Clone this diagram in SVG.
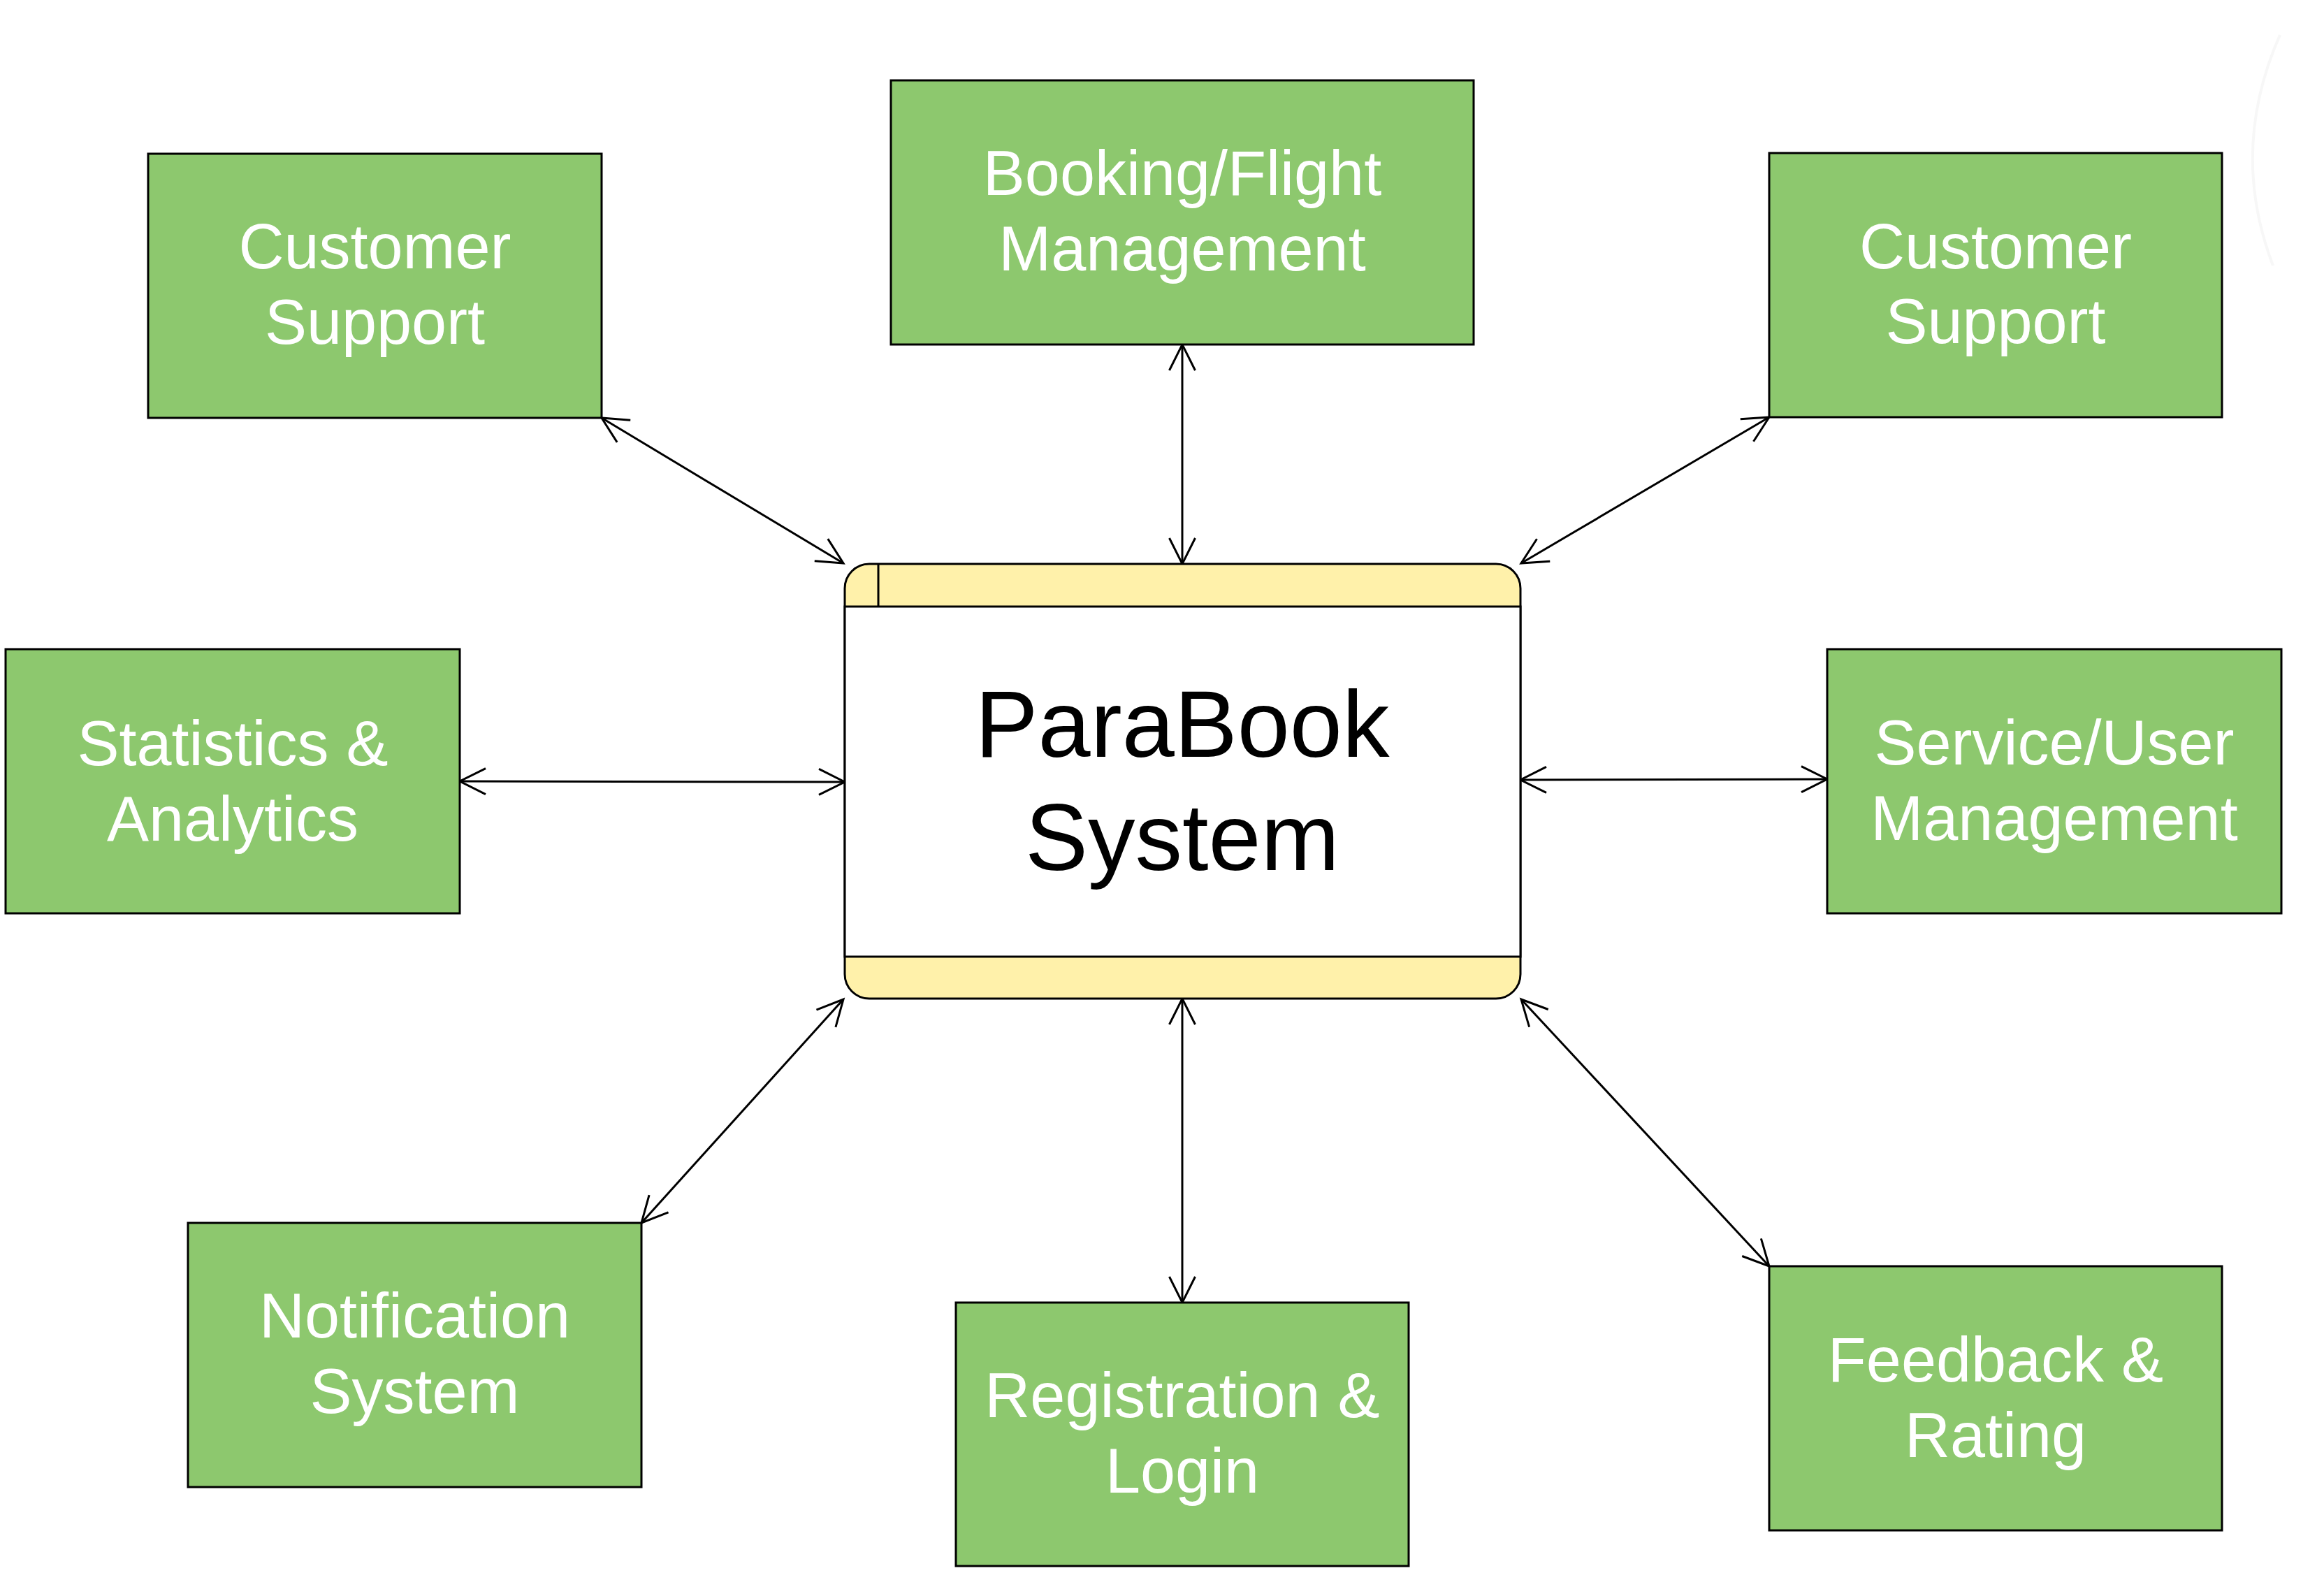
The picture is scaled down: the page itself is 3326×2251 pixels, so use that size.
<svg xmlns="http://www.w3.org/2000/svg" width="3326" height="2251" viewBox="0 0 3326 2251">
<style>
.box{fill:#8dc86e;stroke:#000;stroke-width:3}
.lbl{font-family:"Liberation Sans",Arial,sans-serif;font-size:90px;fill:#fff;text-anchor:middle}
.main{font-family:"Liberation Sans",Arial,sans-serif;font-size:135px;fill:#000;text-anchor:middle}
.conn{fill:none;stroke:#000;stroke-width:3;marker-start:url(#arr);marker-end:url(#arr)}
.band{fill:#fff1aa;stroke:#000;stroke-width:3}
</style>
<defs>
<marker id="arr" markerUnits="userSpaceOnUse" viewBox="-45 -25 50 50" markerWidth="50" markerHeight="50" refX="0" refY="0" orient="auto-start-reverse" overflow="visible">
<path d="M-37,-18.5 L0,0 L-37,18.5" fill="none" stroke="#000" stroke-width="3"/>
</marker>
</defs>
<rect width="3326" height="2251" fill="#fff"/>
<path d="M3263,50 Q3190,215 3253,380" fill="none" stroke="#f7f7f7" stroke-width="4"/>
<g id="connectors">
<line class="conn" x1="861" y1="598" x2="1207" y2="806"/>
<line class="conn" x1="1692" y1="493" x2="1692" y2="807"/>
<line class="conn" x1="2532" y1="597" x2="2177" y2="806"/>
<line class="conn" x1="658" y1="1118" x2="1209" y2="1119"/>
<line class="conn" x1="2176" y1="1116" x2="2615" y2="1115"/>
<line class="conn" x1="918" y1="1750" x2="1207" y2="1430"/>
<line class="conn" x1="1692" y1="1429" x2="1692" y2="1864"/>
<line class="conn" x1="2177" y1="1430" x2="2532" y2="1812"/>
</g>
<g id="parabook">
<rect x="1209" y="807" width="967" height="622" rx="35" ry="35" class="band"/>
<rect x="1209" y="868" width="967" height="501" fill="#fff" stroke="#000" stroke-width="3"/>
<line x1="1257" y1="807" x2="1257" y2="868" stroke="#000" stroke-width="3"/>
<text class="main" x="1692" y="1083">ParaBook</text>
<text class="main" x="1692" y="1245">System</text>
</g>
<g id="customer-support-left">
<rect class="box" x="212" y="220" width="649" height="378"/>
<text class="lbl" x="536.5" y="384">Customer</text>
<text class="lbl" x="536.5" y="492">Support</text>
</g>
<g id="booking">
<rect class="box" x="1275" y="115" width="834" height="378"/>
<text class="lbl" x="1692" y="279">Booking/Flight</text>
<text class="lbl" x="1692" y="387">Management</text>
</g>
<g id="customer-support-right">
<rect class="box" x="2532" y="219" width="648" height="378"/>
<text class="lbl" x="2856" y="384">Customer</text>
<text class="lbl" x="2856" y="491">Support</text>
</g>
<g id="statistics">
<rect class="box" x="8" y="929" width="650" height="378"/>
<text class="lbl" x="333" y="1095">Statistics &amp;</text>
<text class="lbl" x="333" y="1203">Analytics</text>
</g>
<g id="service-user">
<rect class="box" x="2615" y="929" width="650" height="378"/>
<text class="lbl" x="2940" y="1094">Service/User</text>
<text class="lbl" x="2940" y="1202">Management</text>
</g>
<g id="notification">
<rect class="box" x="269" y="1750" width="649" height="378"/>
<text class="lbl" x="593.5" y="1914">Notification</text>
<text class="lbl" x="593.5" y="2022">System</text>
</g>
<g id="registration">
<rect class="box" x="1368" y="1864" width="648" height="377"/>
<text class="lbl" x="1692" y="2028">Registration &amp;</text>
<text class="lbl" x="1692" y="2136">Login</text>
</g>
<g id="feedback">
<rect class="box" x="2532" y="1812" width="648" height="378"/>
<text class="lbl" x="2856" y="1977">Feedback &amp;</text>
<text class="lbl" x="2856" y="2085">Rating</text>
</g>
</svg>
